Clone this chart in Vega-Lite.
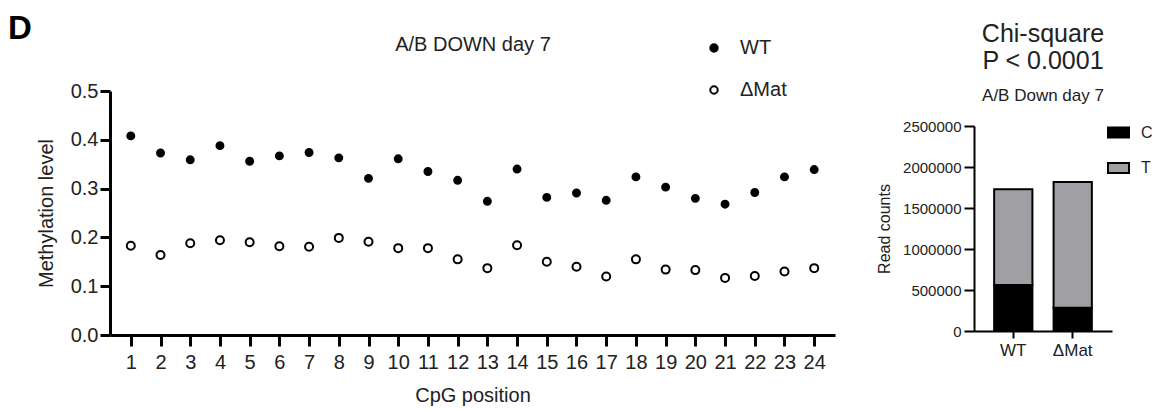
{
  "$schema": "https://vega.github.io/schema/vega-lite/v6.json",
  "padding": {"left": 8, "top": 13, "right": 5, "bottom": 5},
  "background": "white",
  "config": {
    "font": "Liberation Sans",
    "view": {"stroke": null},
    "axis": {"grid": false, "domainColor": "black", "tickColor": "black", "labelColor": "#222", "titleColor": "#222", "titleFontWeight": "normal"},
    "title": {"color": "#222"},
    "legend": {"labelColor": "#222", "padding": 0}
  },
  "hconcat": [
    {
      "width": 725,
      "height": 244,
      "title": {"text": "D", "anchor": "start", "frame": "group", "fontSize": 33, "fontWeight": "bold", "color": "black", "dx": -102, "baseline": "alphabetic", "offset": -38},
      "data": {"values": [
        {"pos": 1, "group": "WT", "value": 0.408}, {"pos": 2, "group": "WT", "value": 0.373}, {"pos": 3, "group": "WT", "value": 0.359}, {"pos": 4, "group": "WT", "value": 0.388},
        {"pos": 5, "group": "WT", "value": 0.356}, {"pos": 6, "group": "WT", "value": 0.367}, {"pos": 7, "group": "WT", "value": 0.374}, {"pos": 8, "group": "WT", "value": 0.363},
        {"pos": 9, "group": "WT", "value": 0.321}, {"pos": 10, "group": "WT", "value": 0.361}, {"pos": 11, "group": "WT", "value": 0.335}, {"pos": 12, "group": "WT", "value": 0.317},
        {"pos": 13, "group": "WT", "value": 0.274}, {"pos": 14, "group": "WT", "value": 0.340}, {"pos": 15, "group": "WT", "value": 0.282}, {"pos": 16, "group": "WT", "value": 0.291},
        {"pos": 17, "group": "WT", "value": 0.276}, {"pos": 18, "group": "WT", "value": 0.324}, {"pos": 19, "group": "WT", "value": 0.303}, {"pos": 20, "group": "WT", "value": 0.280},
        {"pos": 21, "group": "WT", "value": 0.268}, {"pos": 22, "group": "WT", "value": 0.292}, {"pos": 23, "group": "WT", "value": 0.324}, {"pos": 24, "group": "WT", "value": 0.339},
        {"pos": 1, "group": "ΔMat", "value": 0.183}, {"pos": 2, "group": "ΔMat", "value": 0.164}, {"pos": 3, "group": "ΔMat", "value": 0.188}, {"pos": 4, "group": "ΔMat", "value": 0.194},
        {"pos": 5, "group": "ΔMat", "value": 0.190}, {"pos": 6, "group": "ΔMat", "value": 0.182}, {"pos": 7, "group": "ΔMat", "value": 0.181}, {"pos": 8, "group": "ΔMat", "value": 0.199},
        {"pos": 9, "group": "ΔMat", "value": 0.191}, {"pos": 10, "group": "ΔMat", "value": 0.178}, {"pos": 11, "group": "ΔMat", "value": 0.178}, {"pos": 12, "group": "ΔMat", "value": 0.155},
        {"pos": 13, "group": "ΔMat", "value": 0.137}, {"pos": 14, "group": "ΔMat", "value": 0.184}, {"pos": 15, "group": "ΔMat", "value": 0.150}, {"pos": 16, "group": "ΔMat", "value": 0.140},
        {"pos": 17, "group": "ΔMat", "value": 0.120}, {"pos": 18, "group": "ΔMat", "value": 0.155}, {"pos": 19, "group": "ΔMat", "value": 0.134}, {"pos": 20, "group": "ΔMat", "value": 0.133},
        {"pos": 21, "group": "ΔMat", "value": 0.117}, {"pos": 22, "group": "ΔMat", "value": 0.121}, {"pos": 23, "group": "ΔMat", "value": 0.130}, {"pos": 24, "group": "ΔMat", "value": 0.137}
      ]},
      "encoding": {
        "y": {"field": "value", "type": "quantitative", "scale": {"domain": [0, 0.5], "nice": false},
          "axis": {"values": [0, 0.1, 0.2, 0.3, 0.4, 0.5], "format": ".1f", "title": "Methylation level", "domainWidth": 3, "tickWidth": 3, "tickSize": 10, "labelPadding": 2, "labelFontSize": 20, "titleFontSize": 20, "titlePadding": 14}},
        "fill": {"field": "group", "type": "nominal", "scale": {"domain": ["WT", "ΔMat"], "range": ["black", "white"]},
          "legend": {"orient": "none", "legendX": 594, "legendY": -53, "title": null, "labelFontSize": 20, "symbolSize": 55, "symbolType": "circle", "symbolStrokeColor": "black", "symbolStrokeWidth": 2, "rowPadding": 22, "labelOffset": 16}}
      },
      "layer": [
        {
          "transform": [{"filter": "datum.group === 'WT'"}],
          "mark": {"type": "point", "shape": "circle", "stroke": "black", "strokeWidth": 2, "size": 48, "opacity": 1},
          "encoding": {
            "x": {"field": "pos", "type": "quantitative", "scale": {"domain": [0.3, 24.7], "nice": false, "zero": false},
              "axis": {"orient": "bottom", "values": [1,2,3,4,5,6,7,8,9,10,11,12,13,14,15,16,17,18,19,20,21,22,23,24], "title": "CpG position", "domainWidth": 3, "tickWidth": 3, "tickSize": 11, "labelPadding": 6, "labelFontSize": 20, "titleFontSize": 20, "titlePadding": 13, "labelFlush": false, "labelOverlap": false}}
          }
        },
        {
          "transform": [{"filter": "datum.group === 'ΔMat'"}],
          "mark": {"type": "point", "shape": "circle", "stroke": "black", "strokeWidth": 2, "size": 64, "opacity": 1},
          "encoding": {
            "x": {"field": "pos", "type": "quantitative",
              "axis": {"orient": "top", "title": "A/B DOWN day 7", "labels": false, "ticks": false, "domain": false, "titleFontSize": 20, "titleBaseline": "alphabetic", "titlePadding": 41}}
          }
        }
      ],
      "resolve": {"axis": {"x": "independent"}}
    },
    {
      "width": 138,
      "height": 240,
      "title": {"text": ["Chi-square", "P < 0.0001"], "subtitle": "A/B Down day 7", "fontSize": 25, "fontWeight": "normal", "lineHeight": 27, "subtitleFontSize": 17, "subtitleColor": "#222", "subtitlePadding": 14, "offset": -13},
      "data": {"values": [
        {"genotype": "WT", "base": "C", "count": 560000},
        {"genotype": "WT", "base": "T", "count": 1168000},
        {"genotype": "ΔMat", "base": "C", "count": 285000},
        {"genotype": "ΔMat", "base": "T", "count": 1533000}
      ]},
      "mark": {"type": "bar", "stroke": "black", "strokeWidth": 2},
      "encoding": {
        "x": {"field": "genotype", "type": "nominal", "sort": ["WT", "ΔMat"], "scale": {"paddingInner": 0.356, "paddingOuter": 0.339},
          "axis": {"title": null, "labelAngle": 0, "domainWidth": 2, "tickWidth": 2, "tickSize": 7, "labelPadding": 4, "labelFontSize": 17}},
        "y": {"field": "count", "type": "quantitative", "stack": "zero", "scale": {"domain": [0, 2500000], "range": [240, 35], "nice": false},
          "axis": {"values": [0, 500000, 1000000, 1500000, 2000000, 2500000], "format": "d", "title": "Read counts", "domainWidth": 2, "tickWidth": 2, "tickSize": 10, "labelPadding": 3, "labelFontSize": 15, "titleFontSize": 16, "titlePadding": 10}},
        "color": {"field": "base", "type": "nominal", "scale": {"domain": ["C", "T"], "range": ["black", "#a0a0a4"]},
          "legend": {"orient": "none", "legendX": 997, "legendY": 30, "title": null, "labelFontSize": 16, "symbolType": "M-1,-0.48H1V0.48H-1Z", "symbolSize": 441, "symbolStrokeColor": "black", "symbolStrokeWidth": 2, "rowPadding": 14.5, "labelOffset": 11}},
        "order": {"field": "base", "sort": "ascending"}
      }
    }
  ],
  "spacing": 41
}
